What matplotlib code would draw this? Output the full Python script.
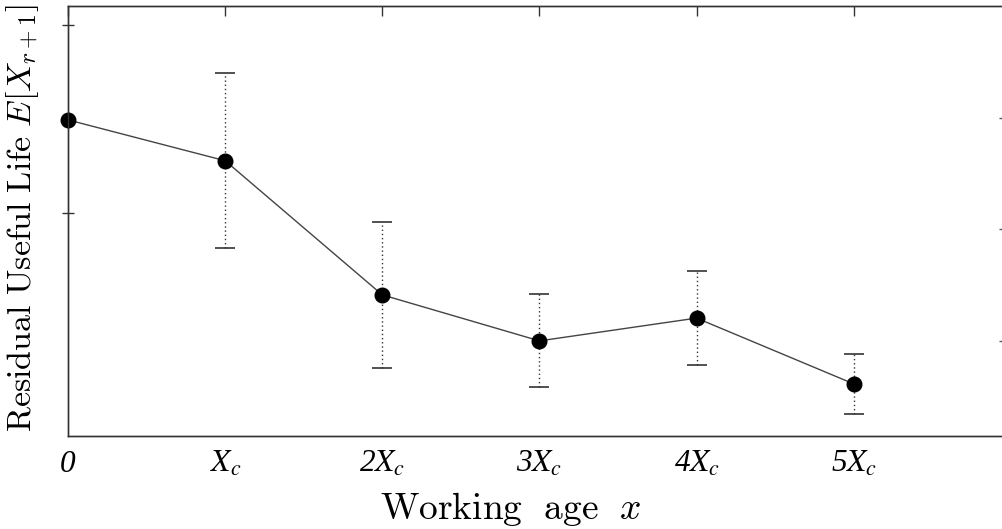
import numpy as np
import matplotlib
matplotlib.use('Agg')
import matplotlib.pyplot as plt

# values (arbitrary units, axis runs 0..10)
ages = [0, 1, 2, 3, 4, 5]
age_labels = ['0', '$X_c$', '2$X_c$', '3$X_c$', '4$X_c$', '5$X_c$']
rul_mean = [7.35, 6.40, 3.28, 2.21, 2.74, 1.21]
rul_err = [0.0, 2.03, 1.69, 1.08, 1.09, 0.70]
left_ticks = [5.19, 9.56]
right_ticks = [2.21, 4.81, 7.40]

plt.rcParams['mathtext.fontset'] = 'cm'

fig = plt.figure(figsize=(10.02, 5.29), dpi=100)
ax = fig.add_axes([0.0679, 0.176, 0.9331, 0.8127])

# error bars drawn dotted, means on top
eb = ax.errorbar(ages[1:], rul_mean[1:], yerr=rul_err[1:], fmt='none',
                 ecolor='#333333', elinewidth=1.0, capsize=7.5, capthick=1.2)
eb[2][0].set_linestyle((0, (1, 2)))
ax.plot(ages, rul_mean, color='#444444', linewidth=1.0, zorder=3)
ax.plot(ages, rul_mean, 'o', color='black', markersize=10.5, zorder=4, clip_on=False)

ax.set_xlim(0, 5.95)
ax.set_ylim(0, 10)

ax.set_xticks(ages)
ax.set_xticklabels(age_labels, fontsize=22.5, family='Liberation Serif',
                   style='italic', math_fontfamily='stix')
ax.tick_params(axis='x', bottom=False, top=True, direction='in', length=7,
               width=1.0, pad=10, color='#333333')
ax.set_yticks(left_ticks)
ax.set_yticklabels([])
ax.tick_params(axis='y', left=True, right=False, direction='inout', length=9,
               width=1.0, color='#333333')

ax2 = ax.twinx()
ax2.set_ylim(0, 10)
ax2.set_yticks(right_ticks)
ax2.set_yticklabels([])
ax2.tick_params(axis='y', direction='in', length=3, width=1.0, color='#555555')
ax2.spines['right'].set_visible(False)

for a in (ax, ax2):
    for s in a.spines.values():
        s.set_linewidth(1.0)
        s.set_color('#333333')

ax.set_xlabel(r'$\mathrm{Working\ \ age}\ \ x$', fontsize=27)
ax.xaxis.set_label_coords(0.473, -0.125)
ax.set_ylabel(r'$\mathrm{Residual\ Useful\ Life}\ E[X_{r+1}]$', fontsize=24.5)
ax.yaxis.set_label_coords(-0.029, 0.506)

fig.savefig('out.png', dpi=100)
